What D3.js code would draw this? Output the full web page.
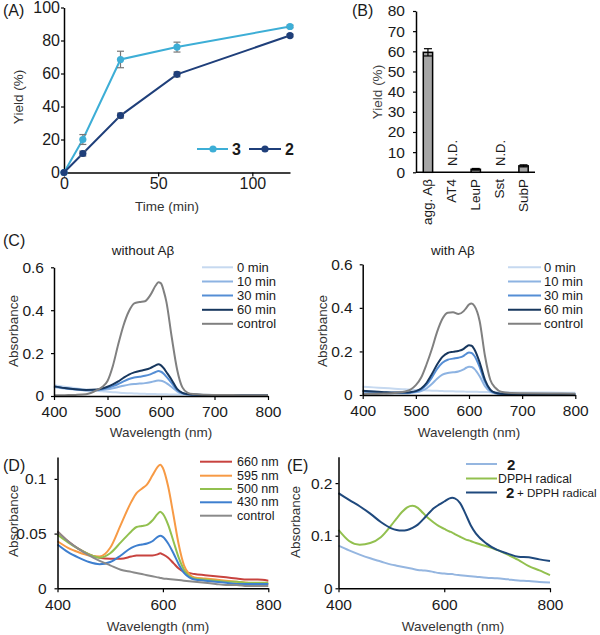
<!DOCTYPE html>
<html><head><meta charset="utf-8">
<script src="https://cdn.jsdelivr.net/npm/d3@7"></script>
<style>
body{margin:0;background:#fff;}
svg text{font-family:"Liberation Sans",Arial,sans-serif;fill:#1a1a1a;}
</style></head><body>
<svg id="c" width="600" height="635"></svg>
<script>
// ---------- Panel A data ----------
const timeA = [0, 10, 30, 60, 120];
const yield3 = [0, 20, 68.5, 76, 88.5];
const err3 = [0, 3, 5, 3, 0.8];
const yield2 = [0, 11.5, 34.5, 59.5, 83];
const err2 = [0, 1.5, 1.5, 1.5, 0.8];
const ticksAX = [0, 50, 100];
const ticksAY = [0, 20, 40, 60, 80, 100];

// ---------- Panel B data ----------
const catsB = ["agg. Aβ", "AT4", "LeuP", "Sst", "SubP"];
const yieldB = [59.5, null, 1.5, null, 3.2];
const errB = [1.8, 0, 0.4, 0, 0.5];
const ticksBY = [0, 10, 20, 30, 40, 50, 60, 70, 80];

// ---------- Panel C data ----------
const wlC = [400,420,440,460,480,490,500,510,520,530,540,550,560,570,580,590,595,600,605,610,620,630,640,650,660,680,700,750,800];
const seriesC = ["0 min", "10 min", "30 min", "60 min", "control"];
const cL0   = [.05,.043,.036,.03,.025,.022,.02,.018,.016,.014,.013,.012,.011,.01,.009,.009,.008,.008,.008,.008,.007,.007,.007,.006,.006,.006,.005,.005,.004];
const cL10  = [.042,.035,.03,.026,.026,.028,.031,.036,.042,.048,.053,.056,.058,.06,.064,.07,.072,.071,.067,.06,.042,.022,.011,.007,.006,.005,.005,.004,.004];
const cL30  = [.045,.037,.031,.027,.028,.032,.038,.046,.056,.068,.079,.086,.09,.094,.101,.112,.116,.113,.104,.09,.06,.028,.013,.008,.006,.005,.005,.004,.004];
const cL60  = [.045,.037,.031,.028,.03,.035,.043,.054,.068,.085,.1,.11,.117,.122,.13,.143,.148,.143,.13,.112,.075,.033,.015,.009,.007,.005,.005,.004,.004];
const cLctl = [.003,.004,.005,.008,.027,.042,.07,.14,.24,.33,.395,.432,.438,.442,.47,.515,.53,.525,.49,.44,.275,.125,.04,.015,.009,.006,.005,.004,.004];
const cR0   = [.038,.035,.032,.029,.026,.025,.023,.022,.021,.02,.019,.018,.017,.017,.016,.016,.015,.015,.015,.015,.014,.014,.013,.013,.013,.012,.012,.011,.01];
const cR10  = [.012,.01,.009,.008,.008,.009,.012,.018,.03,.05,.075,.093,.101,.104,.108,.118,.125,.13,.129,.12,.086,.04,.015,.007,.005,.004,.004,.003,.003];
const cR30  = [.018,.015,.012,.01,.01,.012,.016,.026,.047,.08,.12,.148,.162,.167,.171,.18,.189,.195,.193,.18,.128,.06,.022,.009,.005,.004,.004,.003,.003];
const cR60  = [.02,.016,.013,.011,.011,.013,.018,.03,.055,.095,.14,.175,.193,.198,.202,.212,.222,.228,.226,.21,.15,.07,.025,.01,.006,.004,.004,.003,.003];
const cRctl = [.005,.006,.007,.009,.016,.025,.045,.08,.14,.21,.29,.35,.378,.38,.372,.385,.40,.415,.42,.41,.34,.18,.07,.032,.015,.009,.008,.007,.006];
const ticksCX = [400, 500, 600, 700, 800];
const ticksCY = [0, 0.2, 0.4, 0.6];

// ---------- Panel D data ----------
const wlD = [400,420,440,460,480,500,520,540,550,560,570,580,590,595,600,610,620,630,640,650,660,680,700,720,740,760,780,800];
const seriesD = ["660 nm", "595 nm", "500 nm", "430 nm", "control"];
const d660 = [.052,.043,.036,.031,.028,.027,.027,.029,.03,.03,.03,.03,.031,.032,.031,.028,.023,.018,.015,.014,.013,.012,.011,.01,.009,.008,.008,.007];
const d595 = [.043,.037,.033,.03,.029,.037,.058,.079,.087,.091,.095,.103,.111,.113,.11,.093,.067,.04,.021,.013,.01,.009,.008,.007,.006,.005,.004,.004];
const d500 = [.049,.042,.036,.031,.028,.032,.042,.052,.056,.057,.058,.062,.068,.07,.068,.058,.043,.028,.017,.011,.009,.008,.007,.006,.006,.005,.005,.005];
const d430 = [.04,.033,.028,.024,.022,.024,.03,.037,.039,.04,.041,.043,.047,.048,.047,.041,.032,.022,.014,.01,.008,.007,.006,.005,.004,.004,.004,.004];
const dCtl = [.052,.043,.036,.03,.025,.021,.017,.015,.014,.013,.012,.011,.01,.0095,.009,.0085,.008,.0075,.007,.0065,.006,.005,.004,.003,.003,.002,.002,.002];
const ticksDX = [400, 600, 800];
const ticksDY = [0, 0.05, 0.1];

// ---------- Panel E data ----------
const wlE = [400,420,440,460,480,500,510,520,530,540,550,560,570,580,590,600,610,615,620,630,640,650,660,680,700,720,740,760,780,800];
const e2    = [.081,.072,.064,.057,.051,.045,.043,.041,.039,.037,.035,.034,.033,.031,.029,.028,.027,.027,.026,.025,.024,.023,.022,.02,.019,.017,.015,.014,.012,.011];
const eDPPH = [.111,.09,.083,.086,.097,.12,.133,.145,.154,.157,.153,.143,.133,.125,.118,.113,.108,.106,.103,.098,.093,.09,.086,.08,.073,.064,.054,.042,.034,.025];
const eMix  = [.181,.168,.156,.142,.126,.114,.111,.11,.111,.115,.121,.131,.142,.152,.159,.165,.171,.172,.171,.162,.142,.12,.104,.085,.073,.066,.06,.059,.055,.052];
const ticksEX = [400, 600, 800];
const ticksEY = [0, 0.1, 0.2];

// ---------- helpers ----------
const svg = d3.select("#c");
const FS_TICK = 15.5, FS_TITLE = 13.5, FS_LEG = 13;
const TITLE_FILL = "#333";

function styleAxis(g, fs) {
  g.attr("font-family", null).attr("font-size", null);
  g.select(".domain").attr("stroke", "#000").attr("stroke-width", 1.5);
  g.selectAll(".tick line").attr("stroke", "#000").attr("stroke-width", 1.2);
  g.selectAll(".tick text").attr("font-size", fs).style("fill", "#1a1a1a");
}
function axisLeft(y, x0, ticks, size, pad, fs) {
  const g = svg.append("g").attr("transform", `translate(${x0},0)`)
    .call(d3.axisLeft(y).tickValues(ticks).tickFormat(d => String(d)).tickSize(size).tickSizeOuter(0).tickPadding(pad));
  styleAxis(g, fs);
  return g;
}
function axisBottom(x, y0, ticks, size, pad, fs) {
  const g = svg.append("g").attr("transform", `translate(0,${y0})`)
    .call(d3.axisBottom(x).tickValues(ticks).tickFormat(d => String(d)).tickSize(size).tickSizeOuter(0).tickPadding(pad));
  styleAxis(g, fs);
  return g;
}
function text(x, y, s, fs, opts = {}) {
  const t = svg.append("text").attr("x", x).attr("y", y).attr("font-size", fs)
    .attr("text-anchor", opts.anchor || "start")
    .attr("dominant-baseline", opts.baseline || "auto");
  if (opts.bold) t.attr("font-weight", "bold");
  if (opts.rotate) t.attr("transform", `rotate(-90,${x},${y})`);
  if (opts.fill) t.style("fill", opts.fill);
  t.text(s);
  return t;
}
function spectrum(x, y, wl, vals, color, w) {
  const line = d3.line().x((d, i) => x(wl[i])).y(d => y(d)).curve(d3.curveMonotoneX);
  svg.append("path").attr("d", line(vals)).attr("fill", "none")
    .attr("stroke", color).attr("stroke-width", w || 2).attr("stroke-linejoin", "round");
}
function legendLine(x1, x2, y, color, w) {
  svg.append("line").attr("x1", x1).attr("x2", x2).attr("y1", y).attr("y2", y)
    .attr("stroke", color).attr("stroke-width", w || 2);
}

// ---------- Panel A ----------
{
  const x = d3.scaleLinear().domain([0, 120]).range([64, 290]);
  const y = d3.scaleLinear().domain([0, 100]).range([172.5, 7.5]);
  axisLeft(y, 64, ticksAY, 3, 1, 16);
  axisBottom(x, 172.5, ticksAX, 4, 1, 16);
  const col3 = "#3daed6", col2 = "#1f3f7a";
  const ln = d3.line().x((d, i) => x(timeA[i])).y(d => y(d));
  [[yield3, err3, col3], [yield2, err2, col2]].forEach(([v, e, c]) => {
    svg.append("path").attr("d", ln(v)).attr("fill", "none").attr("stroke", c).attr("stroke-width", 2);
    v.forEach((d, i) => {
      if (e[i] > 0) {
        const xx = x(timeA[i]);
        svg.append("line").attr("x1", xx).attr("x2", xx).attr("y1", y(d - e[i])).attr("y2", y(d + e[i])).attr("stroke", "#777").attr("stroke-width", 1.2);
        [d - e[i], d + e[i]].forEach(b => svg.append("line").attr("x1", xx - 3.5).attr("x2", xx + 3.5).attr("y1", y(b)).attr("y2", y(b)).attr("stroke", "#777").attr("stroke-width", 1.2));
      }
      svg.append("circle").attr("cx", x(timeA[i])).attr("cy", y(d)).attr("r", 3.6).attr("fill", c);
    });
  });
  legendLine(197, 228, 149, col3); svg.append("circle").attr("cx", 213).attr("cy", 149).attr("r", 3.6).attr("fill", col3);
  text(232, 149, "3", 16, { bold: true, baseline: "central" });
  legendLine(249, 281, 149, col2); svg.append("circle").attr("cx", 265).attr("cy", 149).attr("r", 3.6).attr("fill", col2);
  text(285, 149, "2", 16, { bold: true, baseline: "central" });
  text(3, 16, "(A)", 16);
  text(18, 97, "Yield  (%)", FS_TITLE, { anchor: "middle", baseline: "central", rotate: true, fill: TITLE_FILL });
  text(167, 206, "Time (min)", FS_TITLE, { anchor: "middle", baseline: "central", fill: TITLE_FILL });
}

// ---------- Panel B ----------
{
  const x = d3.scaleBand().domain(catsB).range([416, 535.5]).paddingInner(0.61).paddingOuter(0.305);
  const y = d3.scaleLinear().domain([0, 80]).range([172.3, 11]);
  axisLeft(y, 416, ticksBY, 3, 8, 15.5);
  svg.append("line").attr("x1", 416).attr("x2", 535).attr("y1", 172.3).attr("y2", 172.3).attr("stroke", "#000").attr("stroke-width", 1.5);
  catsB.forEach((c, i) => {
    const cx = x(c) + x.bandwidth() / 2;
    if (yieldB[i] == null) {
      text(cx + 1, 166, "N.D.", 13, { anchor: "start", baseline: "central", rotate: true });
    } else {
      svg.append("rect").attr("x", x(c)).attr("width", x.bandwidth()).attr("y", y(yieldB[i]))
        .attr("height", y(0) - y(yieldB[i])).attr("fill", "#a6a6a6").attr("stroke", "#000").attr("stroke-width", 1.5);
      const e = errB[i];
      svg.append("line").attr("x1", cx).attr("x2", cx).attr("y1", y(yieldB[i] - e)).attr("y2", y(yieldB[i] + e)).attr("stroke", "#000").attr("stroke-width", 1.2);
      [yieldB[i] - e, yieldB[i] + e].forEach(b => svg.append("line").attr("x1", cx - 4).attr("x2", cx + 4).attr("y1", y(b)).attr("y2", y(b)).attr("stroke", "#000").attr("stroke-width", 1.2));
    }
    text(cx, 179, c, 13.5, { anchor: "end", baseline: "central", rotate: true });
  });
  text(352, 16, "(B)", 16);
  text(377, 92, "Yield (%)", FS_TITLE, { anchor: "middle", baseline: "central", rotate: true, fill: "#444" });
}

// ---------- Panel C ----------
const colC = ["#c6d9f0", "#8db3e2", "#558ed5", "#17375e", "#808080"];
function panelC(x0, x1, y0, y1, dataArr, title, titleX, legX1, legX2, legT, absX) {
  const x = d3.scaleLinear().domain([400, 800]).range([x0, x1]);
  const y = d3.scaleLinear().domain([0, 0.6]).range([y0, y1]);
  dataArr.forEach((v, i) => spectrum(x, y, wlC, v, colC[i], 2));
  axisLeft(y, x0, ticksCY, 3, 7, FS_TICK);
  axisBottom(x, y0, ticksCX, 4, 6, FS_TICK);
  text(titleX, 250, title, FS_TITLE, { anchor: "middle", baseline: "central" });
  const rows = [267.3, 281.5, 295.5, 309.8, 323.8];
  seriesC.forEach((s, i) => {
    legendLine(legX1, legX2, rows[i], colC[i], 2);
    text(legT, rows[i], s, FS_LEG, { baseline: "central" });
  });
  text(absX, 331, "Absorbance", FS_TITLE, { anchor: "middle", baseline: "central", rotate: true, fill: TITLE_FILL });
  text((x0 + x1) / 2, 432, "Wavelength  (nm)", FS_TITLE, { anchor: "middle", baseline: "central", fill: TITLE_FILL });
}
panelC(54, 268, 396, 267.3, [cL0, cL10, cL30, cL60, cLctl], "without  Aβ", 143, 202, 233, 237, 13);
panelC(362.7, 575.3, 395, 264.3, [cR0, cR10, cR30, cR60, cRctl], "with Aβ", 453, 508, 541, 544, 322);
text(3, 246, "(C)", 16);

// ---------- Panel D ----------
{
  const x = d3.scaleLinear().domain([400, 800]).range([57.5, 268.3]);
  const y = d3.scaleLinear().domain([0, 0.12]).range([588.3, 457]);
  const colD = ["#c8433f", "#f79a45", "#92c04f", "#3e7fcf", "#8a8a8a"];
  [d660, d595, d500, d430, dCtl].forEach((v, i) => spectrum(x, y, wlD, v, colD[i], 2));
  axisLeft(y, 57.5, ticksDY, 3, 8, FS_TICK);
  axisBottom(x, 588.3, ticksDX, 4, 7, FS_TICK);
  const rows = [461.7, 475.7, 489, 502.3, 515.7];
  seriesD.forEach((s, i) => {
    legendLine(200, 232, rows[i], colD[i], 2);
    text(237, rows[i], s, 12.5, { baseline: "central" });
  });
  text(3, 471, "(D)", 16);
  text(13, 521, "Absorbance", FS_TITLE, { anchor: "middle", baseline: "central", rotate: true, fill: TITLE_FILL });
  text(158, 626, "Wavelength  (nm)", FS_TITLE, { anchor: "middle", baseline: "central", fill: TITLE_FILL });
}

// ---------- Panel E ----------
{
  const x = d3.scaleLinear().domain([400, 800]).range([338.5, 550]);
  const y = d3.scaleLinear().domain([0, 0.25]).range([588.3, 456.8]);
  const colE = ["#95b6e0", "#92c04f", "#1f497d"];
  [e2, eDPPH, eMix].forEach((v, i) => spectrum(x, y, wlE, v, colE[i], 2));
  axisLeft(y, 338.5, ticksEY, 3, 3, FS_TICK);
  axisBottom(x, 588.3, ticksEX, 4, 7, FS_TICK);
  const rows = [464, 478.5, 492.5];
  rows.forEach((r, i) => legendLine(466, 497, r, colE[i], 2));
  text(507, rows[0], "2", 15, { bold: true, baseline: "central" });
  text(498, rows[1], "DPPH radical", 12.3, { baseline: "central" });
  text(506, rows[2], "2", 15, { bold: true, baseline: "central" });
  text(517, rows[2], "+ DPPH radical", 11.6, { baseline: "central" });
  text(287, 471, "(E)", 16);
  text(295, 522, "Absorbance", FS_TITLE, { anchor: "middle", baseline: "central", rotate: true, fill: TITLE_FILL });
  text(453, 626, "Wavelength  (nm)", FS_TITLE, { anchor: "middle", baseline: "central", fill: TITLE_FILL });
}
</script>
</body></html>
